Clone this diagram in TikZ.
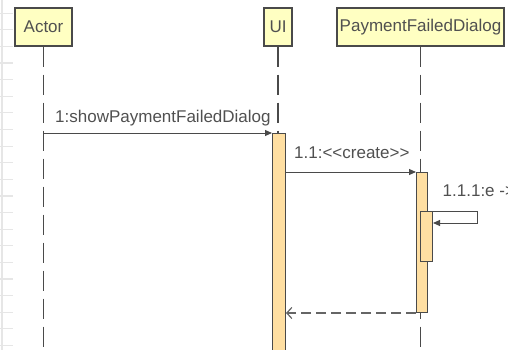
\documentclass[tikz,border=0pt]{standalone}
\usepackage{fontspec}
\setmainfont{Liberation Sans}
\usetikzlibrary{arrows.meta}

\definecolor{boxfill}{HTML}{FFFFC2}
\definecolor{barfill}{HTML}{FFDFA2}
\definecolor{edgegray}{HTML}{4A4A4A}
\definecolor{textgray}{HTML}{505050}
\definecolor{rulergray}{HTML}{E6E6E6}

\begin{document}
\begin{tikzpicture}[x=1pt,y=-1pt]

    \tikzset{
      objbox/.style={
        draw=edgegray,
        fill=boxfill,
        line width=1.2pt,
        rectangle,
        inner sep=0pt,
        minimum height=38pt,
        text=textgray,
        font=\fontsize{17}{20}\selectfont,
      },
      actbar/.style={
        draw=edgegray,
        fill=barfill,
        line width=1pt,
        rectangle,
        inner sep=0pt,
        anchor=north west,
      },
      lifeline/.style={
        draw=edgegray,
        line width=1.3pt,
        dash pattern=on 20pt off 8pt,
      },
      msg/.style={
        draw=edgegray,
        line width=1pt,
        -{Triangle[length=7pt,width=6pt]},
      },
      reply/.style={
        draw=edgegray!85,
        line width=1.2pt,
        dash pattern=on 10pt off 5pt,
        -{Straight Barb[length=5pt,width=11pt]},
      },
      msglabel/.style={
        anchor=base west,
        inner sep=0pt,
        text=textgray,
        font=\fontsize{17}{20}\selectfont,
      },
    }
    \useasboundingbox (0,0) rectangle (508,350);
    \clip (0,0) rectangle (508,350);

	% ruler at the left edge
	\draw[rulergray,line width=1.2pt] (2,0)--(2,350);
	\foreach \k in {0,...,20}
	  \draw[rulergray,line width=1.2pt] (0,13.3+16.6*\k)--(12.5,13.3+16.6*\k);

	% objects
	\node[objbox,minimum width=57pt] (actor) at (43.5,27) {Actor};
	\node[objbox,minimum width=28pt] (ui) at (278,27) {UI};
	\node[objbox,minimum width=167pt] (dialog) at (420.5,27) {PaymentFailedDialog};

	% lifelines
	\coordinate (bottom) at (0,352);
	\draw[lifeline] (actor.south)--(actor.south |- bottom);
	\draw[lifeline] (ui.south)--(ui.south |- bottom);
	\draw[lifeline] (dialog.south)--(dialog.south |- bottom);

	% activations
	\node[actbar,minimum width=13pt,minimum height=230pt] (uiAct) at (272,133) {};
	\node[actbar,minimum width=11pt,minimum height=140pt] (dlgAct) at (416,172) {};
	\node[actbar,minimum width=12pt,minimum height=50pt] (selfAct) at (420,211) {};

	% messages
	\draw[msg] (actor.south |- uiAct.north west)--(uiAct.north west);
	\draw (55,122.7) node[msglabel] (m1) {1:showPaymentFailedDialog};

	\draw[msg] (uiAct.east |- dlgAct.north west)--(dlgAct.north west);
	\draw (294,158) node[msglabel] (m11) {1.1:<{}<create>{}>};

	\coordinate (selfTurn) at (477,223);
	\draw[msg] (selfAct.north east) -| (selfTurn)--(selfAct.east |- selfTurn);
	\draw (442.5,196) node[msglabel] (m111) {1.1.1:e ->};

	\draw[reply] (dlgAct.south west)--(uiAct.east |- dlgAct.south west);

\end{tikzpicture}
\end{document}
